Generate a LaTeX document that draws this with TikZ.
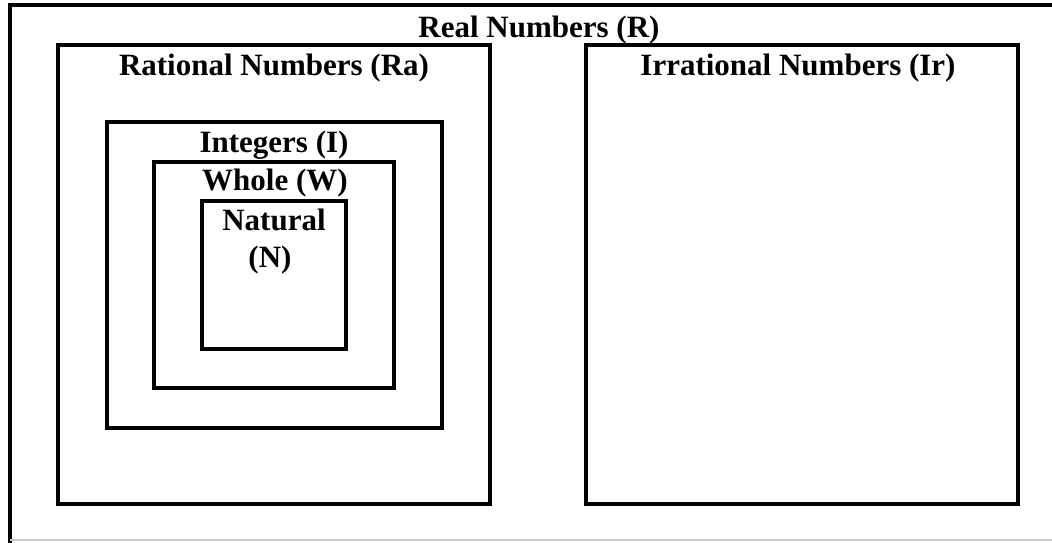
\documentclass[tikz,border=0pt]{standalone}
\usepackage{fontspec}
\setmainfont{Liberation Serif}
\begin{document}
\begin{tikzpicture}[x=1pt,y=-1pt,
  setbox/.style={draw=black,line width=3.2pt},
  lbl/.style={font=\fontsize{31}{37}\selectfont\bfseries,anchor=base,inner sep=0pt}]
\useasboundingbox (0,0) rectangle (1052,542);
\clip (0,0) rectangle (1052,542);
% outer frame: real numbers
\draw[setbox] (1070,5) -- (10,5) -- (10,560);
\draw[black!20,line width=1.5pt] (10,540) -- (1070,540);
% nested sets
\draw[setbox] (58,45) rectangle (490,504);   % rational
\draw[setbox] (107,122) rectangle (442,428); % integers
\draw[setbox] (154,162) rectangle (394,388); % whole
\draw[setbox] (202,201) rectangle (346,349); % natural
\draw[setbox] (586,45) rectangle (1018,504); % irrational
% labels
\node[lbl] (real) at (539,37) {Real Numbers (R)};
\node[lbl] (rat) at (274,75) {Rational Numbers (Ra)};
\node[lbl] (irr) at (798,75) {Irrational Numbers (Ir)};
\node[lbl] (int) at (274,152) {Integers (I)};
\node[lbl] (whole) at (275,190) {Whole (W)};
\node[lbl] (nat) at (274,230) {Natural};
\node[lbl] (natsym) at (270,267) {(N)};
\end{tikzpicture}
\end{document}
